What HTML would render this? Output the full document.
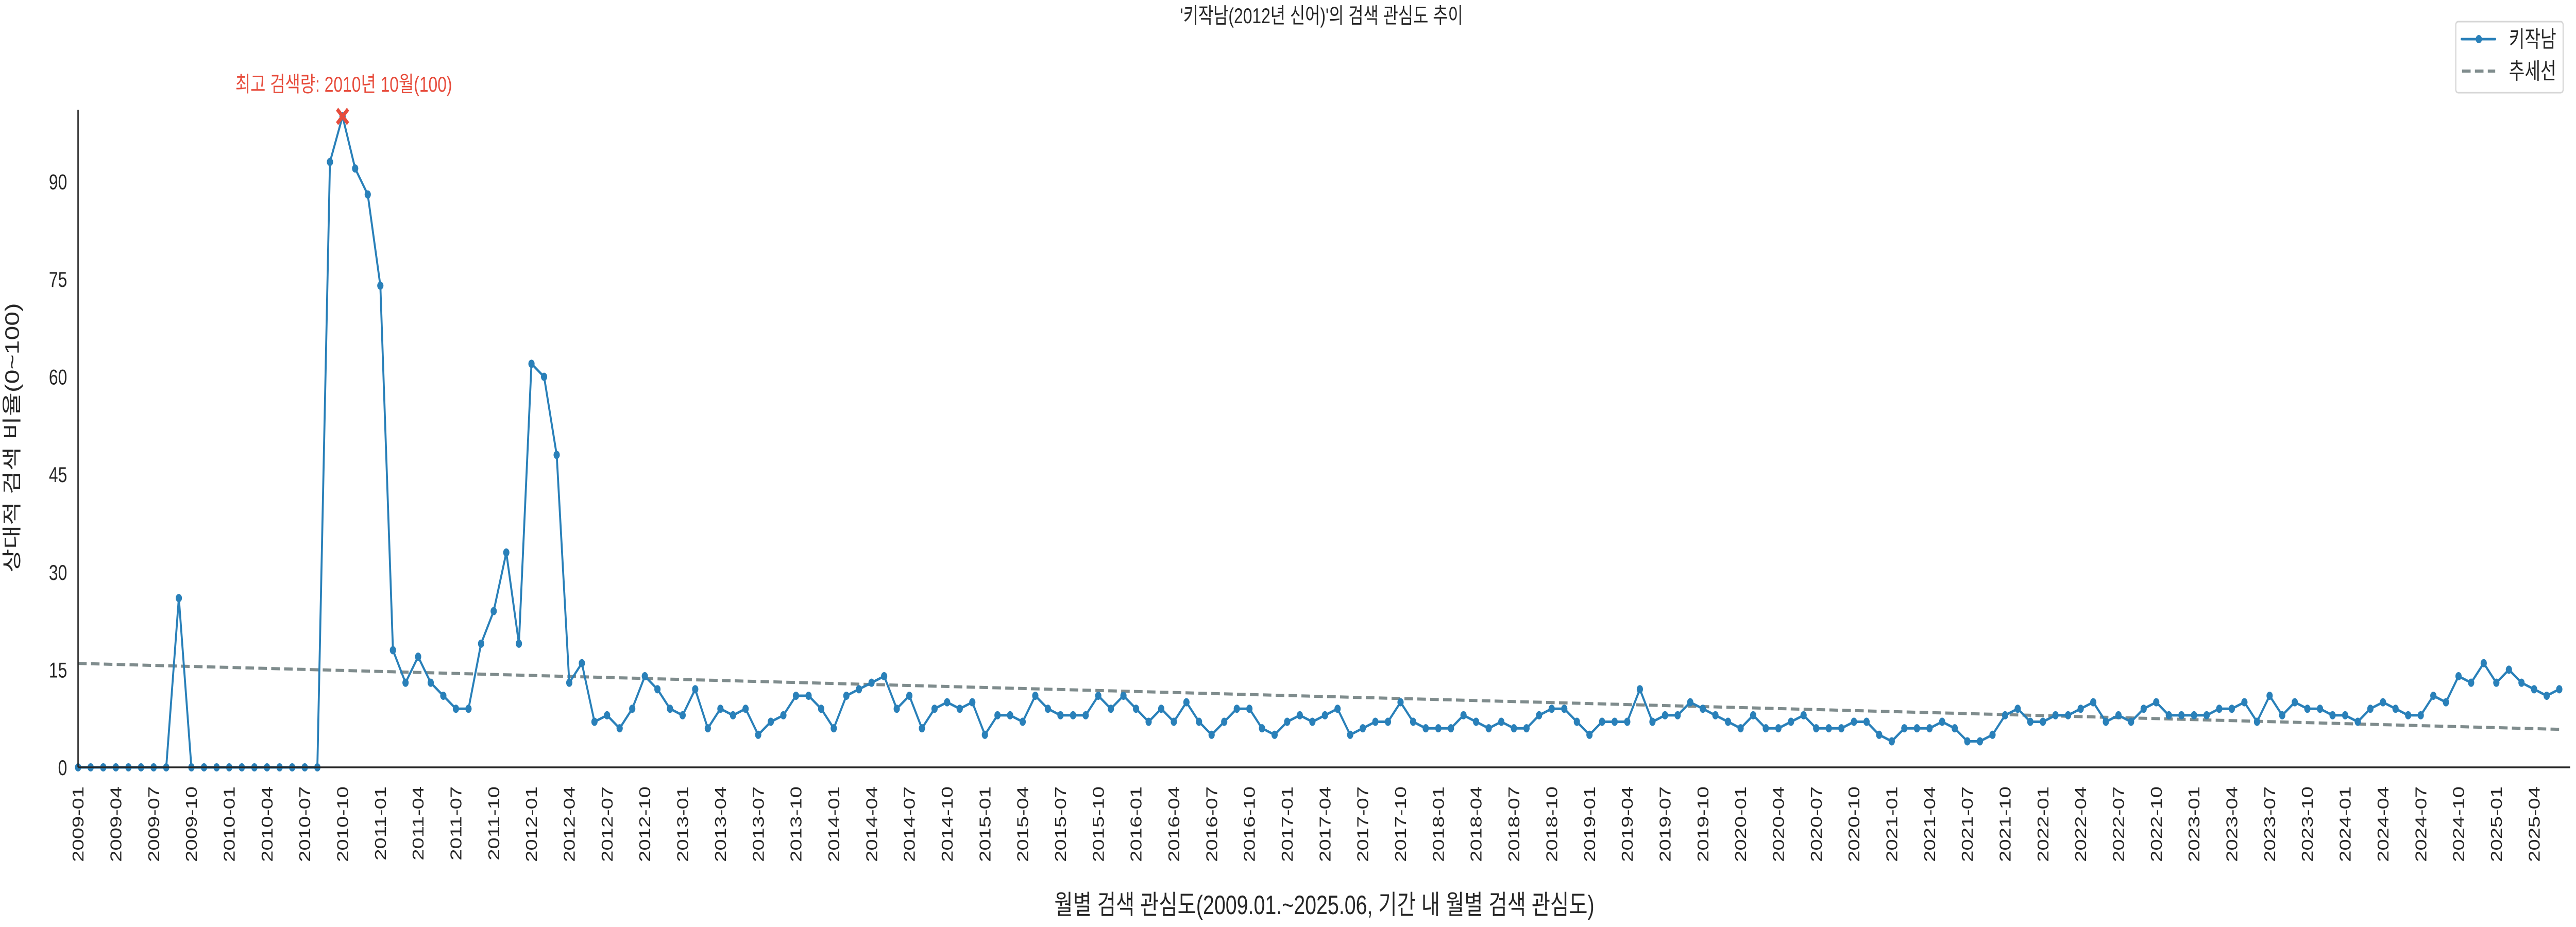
<!DOCTYPE html>
<html><head><meta charset="utf-8">
<style>
html,body{margin:0;padding:0;background:#fff;width:100%;height:100%;overflow:hidden;}
svg{display:block;width:100vw;height:100vh;font-family:"Liberation Sans","Noto Sans CJK KR",sans-serif;}
</style></head>
<body>
<svg id="chart" viewBox="0 0 6600 1800" preserveAspectRatio="none" xmlns="http://www.w3.org/2000/svg">
<rect width="6600" height="1800" fill="#fff"/>
<text x="3386" y="45" font-size="42" text-anchor="middle" fill="#262626">'키작남(2012년 신어)'의 검색 관심도 추이</text>
<g id="ticks"></g>
<g id="series"></g>
<line x1="200" y1="213" x2="200" y2="1490" stroke="#262626" stroke-width="3.5"/>
<line x1="200" y1="1490" x2="6585" y2="1490" stroke="#262626" stroke-width="3.5"/>
<text transform="translate(48,850) rotate(-90)" font-size="50" text-anchor="middle" fill="#262626">상대적 검색 비율(0~100)</text>
<text x="3393" y="1775" font-size="52" text-anchor="middle" fill="#262626">월별 검색 관심도(2009.01.~2025.06, 기간 내 월별 검색 관심도)</text>
<g>
<rect x="6292" y="42" width="275" height="138" rx="6" fill="#fff" stroke="#d6d6d6" stroke-width="3"/>
<line x1="6307" y1="76" x2="6393" y2="76" stroke="#2980b9" stroke-width="5" stroke-linecap="round"/>
<circle cx="6351" cy="76" r="8" fill="#2980b9"/>
<text x="6428" y="91" font-size="44" fill="#262626">키작남</text>
<line x1="6308" y1="138" x2="6393" y2="138" stroke="#7f8c8d" stroke-width="6" stroke-dasharray="22,11"/>
<text x="6428" y="153" font-size="44" fill="#262626">추세선</text>
</g>
</svg>
<script>
const startYear = 2009, startMonth = 1;
const values = [
0,0,0,0,0,0,0,0,26,0,0,0,
0,0,0,0,0,0,0,0,93,100,92,88,
74,18,13,17,13,11,9,9,19,24,33,19,
62,60,48,13,16,7,8,6,9,14,12,9,
8,12,6,9,8,9,5,7,8,11,11,9,
6,11,12,13,14,9,11,6,9,10,9,10,
5,8,8,7,11,9,8,8,8,11,9,11,
9,7,9,7,10,7,5,7,9,9,6,5,
7,8,7,8,9,5,6,7,7,10,7,6,
6,6,8,7,6,7,6,6,8,9,9,7,
5,7,7,7,12,7,8,8,10,9,8,7,
6,8,6,6,7,8,6,6,6,7,7,5,
4,6,6,6,7,6,4,4,5,8,9,7,
7,8,8,9,10,7,8,7,9,10,8,8,
8,8,9,9,10,7,11,8,10,9,9,8,
8,7,9,10,9,8,8,11,10,14,13,16,
13,15,13,12,11,12
];
const yTicks = [0,15,30,45,60,75,90];
const peakLabel = "최고 검색량: 2010년 10월(100)";

const NS = "http://www.w3.org/2000/svg";
const X0 = 200, DX = 32.27, Y0 = 1490, DY = 12.64;
const xs = i => X0 + i * DX;
const ys = v => Y0 - v * DY;
function mk(tag, attrs, parent) {
  const el = document.createElementNS(NS, tag);
  for (const k in attrs) el.setAttribute(k, attrs[k]);
  parent.appendChild(el);
  return el;
}
const n = values.length;
const labels = [];
for (let i = 0; i < n; i++) {
  const m = (startMonth - 1 + i) % 12 + 1;
  const y = startYear + Math.floor((startMonth - 1 + i) / 12);
  labels.push(y + "-" + String(m).padStart(2, "0"));
}
const ticksG = document.getElementById("ticks");
yTicks.forEach(t => {
  const tx = mk("text", {x: 172, y: ys(t) + 15, "font-size": 42, "text-anchor": "end", fill: "#262626"}, ticksG);
  
  
  tx.textContent = t;
});
for (let i = 0; i < n; i += 3) {
  const x = xs(i);
  const tx = mk("text", {transform: `translate(${x + 14},1527) rotate(-90)`, "font-size": 40, "text-anchor": "end", fill: "#262626"}, ticksG);
  
  
  tx.textContent = labels[i];
}
let sx = 0, sy = 0, sxy = 0, sxx = 0;
values.forEach((v, i) => { sx += i; sy += v; sxy += i * v; sxx += i * i; });
const slope = (n * sxy - sx * sy) / (n * sxx - sx * sx);
const icpt = (sy - slope * sx) / n;
const sg = document.getElementById("series");
const trend = mk("line", {x1: xs(0), y1: ys(icpt), x2: xs(n - 1), y2: ys(icpt + slope * (n - 1)), stroke: "#7f8c8d", "stroke-width": 6, "stroke-dasharray": "22,11"}, sg);


const pts = values.map((v, i) => xs(i).toFixed(1) + "," + ys(v).toFixed(1)).join(" ");
const pl = mk("polyline", {points: pts, fill: "none", stroke: "#2980b9", "stroke-width": 5, "stroke-linejoin": "round"}, sg);


values.forEach((v, i) => {
  const c = mk("circle", {cx: xs(i), cy: ys(v), r: 8, fill: "#2980b9"}, sg);
  
  
});
let pi = 0;
values.forEach((v, i) => { if (v > values[pi]) pi = i; });
const px = xs(pi), py = ys(values[pi]);
const pk = mk("path", {d: `M${px-14},${py-14}L${px+14},${py+14}M${px-14},${py+14}L${px+14},${py-14}`, stroke: "#e74c3c", "stroke-width": 8}, sg);


const pt = mk("text", {x: px + 3, y: 178, "font-size": 42, "text-anchor": "middle", fill: "#e74c3c"}, sg);


pt.textContent = peakLabel;
</script>
</body></html>
